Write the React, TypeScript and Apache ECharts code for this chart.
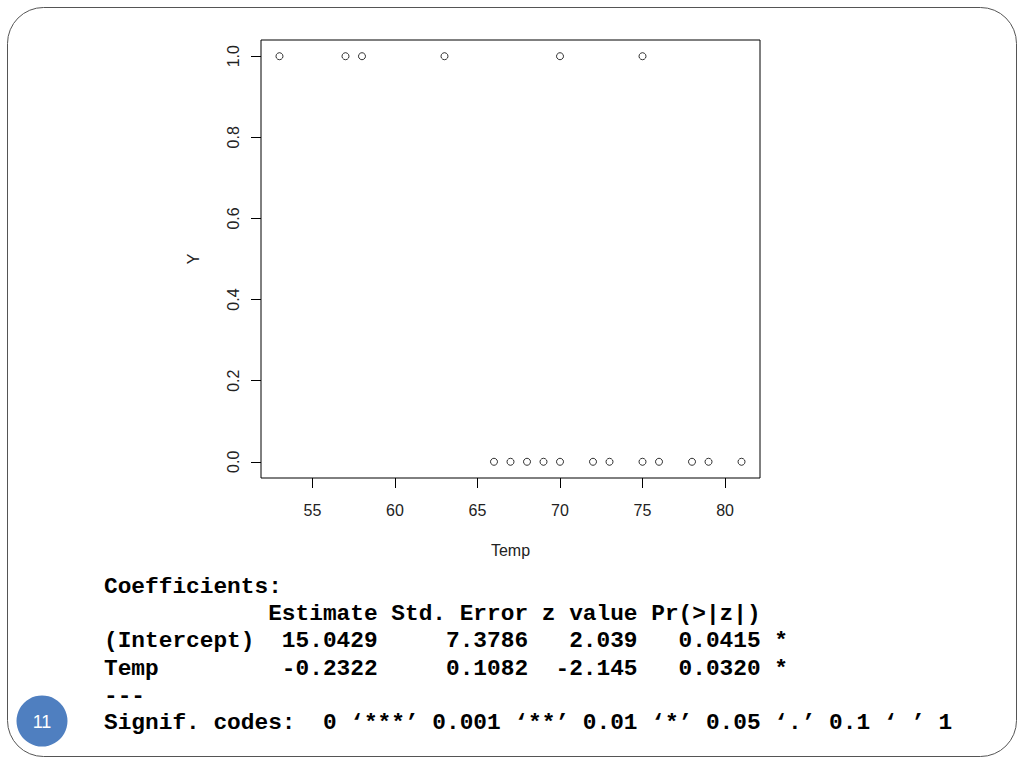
import React, { useEffect, useRef } from "react";
import * as echarts from "echarts";

const tempY1: number[] = [53, 57, 58, 63, 70, 75];
const tempY0: number[] = [66, 67, 68, 69, 70, 72, 73, 75, 76, 78, 79, 81];
const xTicks: number[] = [55, 60, 65, 70, 75, 80];
const yTicks: number[] = [0, 0.2, 0.4, 0.6, 0.8, 1.0];
const outputLines: string[] = [
  "Coefficients:",
  "            Estimate Std. Error z value Pr(>|z|)",
  "(Intercept)  15.0429     7.3786   2.039   0.0415 *",
  "Temp         -0.2322     0.1082  -2.145   0.0320 *",
  "---",
  "Signif. codes:  0 \u2018***\u2019 0.001 \u2018**\u2019 0.01 \u2018*\u2019 0.05 \u2018.\u2019 0.1 \u2018 \u2019 1",
];
const pageNumber = "11";

export default function App() {
  const ref = useRef<HTMLDivElement>(null);
  useEffect(() => {
    if (!ref.current) return;
    const chart = echarts.init(ref.current, null, { renderer: "svg" });
    const points: number[][] = [
      ...tempY1.map((t) => [t, 1]),
      ...tempY0.map((t) => [t, 0]),
    ];
    const axisFont = "Liberation Sans, Arial, sans-serif";
    const textColor = "#222";
    const graphics: any[] = [
      {
        type: "rect",
        shape: { x: 7.5, y: 7.5, width: 1009, height: 749, r: 36 },
        style: { fill: "none", stroke: "#555", lineWidth: 1 },
        silent: true,
      },
      {
        type: "circle",
        shape: { cx: 42, cy: 721, r: 25.5 },
        style: { fill: "#4F7FC0" },
      },
      {
        type: "text",
        x: 42,
        y: 722,
        style: {
          text: pageNumber,
          fill: "#fff",
          font: "18px Liberation Sans, Arial, sans-serif",
          align: "center",
          verticalAlign: "middle",
        },
      },
      ...outputLines.map((line, i) => ({
        type: "text",
        x: 104,
        y: 587 + i * 27.2,
        style: {
          text: line,
          fill: "#000",
          font: "bold 22.8px Liberation Mono, Courier New, monospace",
          align: "left",
          verticalAlign: "middle",
        },
      })),
    ];
    chart.setOption({
      animation: false,
      backgroundColor: "#fff",
      grid: {
        left: 261,
        top: 40,
        width: 499,
        height: 438,
        show: true,
        borderColor: "#000",
        borderWidth: 1,
        backgroundColor: "transparent",
      },
      xAxis: {
        type: "value",
        min: 51.88,
        max: 82.12,
        splitLine: { show: false },
        axisLine: { show: false, onZero: false },
        axisTick: {
          show: true,
          inside: false,
          length: 10,
          customValues: xTicks,
          lineStyle: { color: "#000" },
        },
        axisLabel: {
          customValues: xTicks,
          margin: 24,
          fontSize: 16,
          fontFamily: axisFont,
          color: textColor,
          formatter: (v: number) => String(v),
        },
        name: "Temp",
        nameLocation: "middle",
        nameGap: 64,
        nameTextStyle: { fontSize: 16, fontFamily: axisFont, color: textColor },
      },
      yAxis: {
        type: "value",
        min: -0.04,
        max: 1.04,
        splitLine: { show: false },
        axisLine: { show: false, onZero: false },
        axisTick: {
          show: true,
          inside: false,
          length: 10,
          customValues: yTicks,
          lineStyle: { color: "#000" },
        },
        axisLabel: {
          customValues: yTicks,
          rotate: 90,
          margin: 20,
          fontSize: 16,
          fontFamily: axisFont,
          color: textColor,
          formatter: (v: number) => v.toFixed(1),
        },
        name: "Y",
        nameLocation: "middle",
        nameRotate: 90,
        nameGap: 60,
        nameTextStyle: { fontSize: 16, fontFamily: axisFont, color: textColor },
      },
      series: [
        {
          type: "scatter",
          data: points,
          symbol: "circle",
          symbolSize: 7,
          itemStyle: { color: "#fff", borderColor: "#000", borderWidth: 1 },
          silent: true,
        },
      ],
      graphic: graphics,
    });
    return () => chart.dispose();
  }, []);
  return (
    <div
      ref={ref}
      style={{ position: "absolute", left: 0, top: 0, width: 1024, height: 768 }}
    />
  );
}
